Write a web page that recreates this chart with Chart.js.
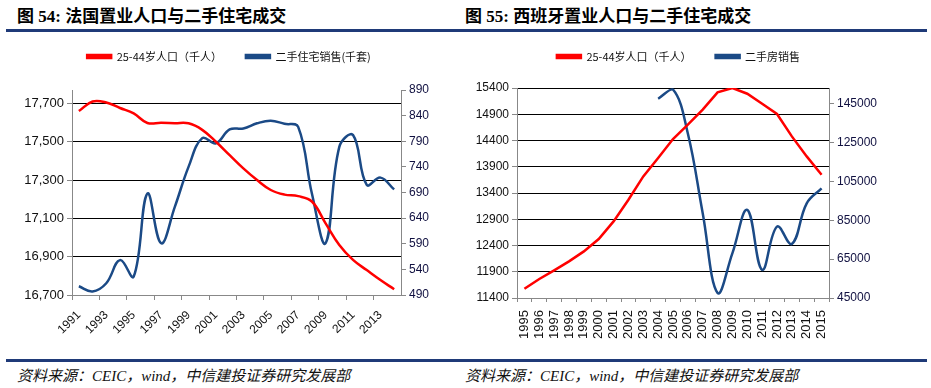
<!DOCTYPE html>
<html>
<head>
<meta charset="utf-8">
<script src="https://cdn.jsdelivr.net/npm/chart.js@4.4.0/dist/chart.umd.min.js"></script>
<style>
  body { margin: 0; background: #fff; width: 931px; height: 388px; position: relative; overflow: hidden; }
  .title { position: absolute; top: 5px; font: bold 17px/20px "Liberation Serif", "Noto Sans CJK SC", serif; color: #000; white-space: nowrap; }
  .title .cn { font-family: "Noto Sans CJK SC", sans-serif; }
  .rule { position: absolute; left: 6px; width: 921px; height: 3px; background: #1f3a78; }
  .source { position: absolute; top: 367px; font: italic 15px/18px "Liberation Serif", "Noto Sans CJK SC", serif; color: #111; white-space: nowrap; }
  canvas { position: absolute; }
</style>
</head>
<body>
<div class="title" style="left:17px">图 54: <span class="cn">法国置业人口与二手住宅成交</span></div>
<div class="title" style="left:465px">图 55: <span class="cn">西班牙置业人口与二手住宅成交</span></div>
<div class="rule" style="top:29px"></div>
<div class="rule" style="top:359px"></div>
<div class="source" style="left:17px">资料来源：CEIC，wind，中信建投证券研究发展部</div>
<div class="source" style="left:465px">资料来源：CEIC，wind，中信建投证券研究发展部</div>

<canvas id="franceChart" width="458" height="323" style="left:0px; top:27px"></canvas>
<canvas id="spainChart" width="427" height="323" style="left:465px; top:27px"></canvas>

<script>
// France, 1991-2014
const franceYears = ["1991","1992","1993","1994","1995","1996","1997","1998","1999","2000","2001","2002",
  "2003","2004","2005","2006","2007","2008","2009","2010","2011","2012","2013","2014"];
const francePop = [17660, 17710, 17705, 17676, 17648, 17598, 17599, 17597, 17596, 17562, 17500, 17430,
  17361, 17300, 17248, 17224, 17216, 17188, 17074, 16961, 16883, 16830, 16778, 16730];
const franceSales = [507, 497, 513, 558, 526, 688, 591, 662, 740, 796, 786, 813,
  815, 825, 830, 824, 818, 688, 591, 779, 802, 705, 719, 696];
const franceLeftTicks = [16700, 16900, 17100, 17300, 17500, 17700];
const franceRightTicks = [490, 540, 590, 640, 690, 740, 790, 840, 890];

// Spain, 1995-2015
const spainYears = ["1995","1996","1997","1998","1999","2000","2001","2002","2003","2004","2005",
  "2006","2007","2008","2009","2010","2011","2012","2013","2014","2015"];
const spainPop = [11577, 11762, 11926, 12097, 12288, 12524, 12859, 13272, 13716, 14067, 14429,
  14701, 14987, 15317, 15400, 15291, 15101, 14905, 14478, 14097, 13749];
const spainSales = [null, null, null, null, null, null, null, null, null, 147500, 152200,
  129600, 88600, 47600, 68100, 90300, 59500, 81700, 72800, 93700, 101400];
const spainLeftTicks = [11400, 11900, 12400, 12900, 13400, 13900, 14400, 14900, 15400];
const spainRightTicks = [45000, 65000, 85000, 105000, 125000, 145000];

const RED = "#ff0000";
const BLUE = "#1b4a86";
const AXIS = "#888888";

Chart.defaults.font.family = "'Liberation Sans', Arial, sans-serif";
Chart.defaults.color = "#111";

// make the legend take a fixed height so the plot starts where it should
function legendHeight(h) {
  return {
    id: "legendHeight",
    beforeInit(chart) {
      const fit = chart.legend.fit;
      chart.legend.fit = function () {
        fit.bind(chart.legend)();
        this.height = h;
      };
    }
  };
}

function fixWidth(w) {
  return scale => { scale.width = w; };
}

function useTicks(values) {
  return scale => { scale.ticks = values.map(v => ({ value: v })); };
}

const legendOpts = {
  position: "top",
  labels: {
    boxWidth: 24,
    boxHeight: 3,
    padding: 24,
    color: "#111",
    font: { family: "'Noto Sans CJK SC', sans-serif", size: 11 }
  }
};

new Chart(document.getElementById("franceChart"), {
  type: "line",
  data: {
    labels: franceYears,
    datasets: [
      {
        label: "25-44岁人口（千人）",
        data: francePop,
        yAxisID: "y",
        borderColor: RED,
        backgroundColor: RED,
        borderWidth: 2.5,
        pointRadius: 0,
        tension: 0.4
      },
      {
        label: "二手住宅销售(千套)",
        data: franceSales,
        yAxisID: "y1",
        borderColor: BLUE,
        backgroundColor: BLUE,
        borderWidth: 2.5,
        pointRadius: 0,
        tension: 0.4
      }
    ]
  },
  options: {
    responsive: false,
    animation: false,
    layout: { padding: 0 },
    plugins: { legend: legendOpts, tooltip: { enabled: false } },
    scales: {
      x: {
        offset: true,
        afterFit: scale => { scale.height = 55; },
        grid: {
          offset: true,
          drawOnChartArea: false,
          tickLength: 5,
          tickColor: ctx => (ctx.index % 2 === 0 ? AXIS : "rgba(0,0,0,0)")
        },
        border: { color: AXIS },
        ticks: {
          autoSkip: false,
          minRotation: 45,
          maxRotation: 45,
          padding: 8,
          font: { size: 12 },
          callback: (val, idx) => (idx % 2 === 0 ? franceYears[idx] : "")
        }
      },
      y: {
        position: "left",
        min: 16700,
        max: 17770,
        afterFit: fixWidth(72),
        afterBuildTicks: useTicks(franceLeftTicks),
        grid: {
          color: ctx => (ctx.tick && ctx.tick.value === 16700 ? "rgba(0,0,0,0)" : "#000"),
          tickColor: AXIS,
          tickLength: 5
        },
        border: { color: AXIS },
        ticks: { font: { size: 13 }, callback: v => v.toLocaleString("en-US") }
      },
      y1: {
        position: "right",
        min: 490,
        max: 890,
        afterFit: fixWidth(57),
        afterBuildTicks: useTicks(franceRightTicks),
        grid: { drawOnChartArea: false, tickColor: AXIS, tickLength: 5 },
        border: { color: AXIS },
        ticks: { color: "#101040", font: { size: 12 }, callback: v => String(v) }
      }
    }
  },
  plugins: [legendHeight(63)]
});

new Chart(document.getElementById("spainChart"), {
  type: "line",
  data: {
    labels: spainYears,
    datasets: [
      {
        label: "25-44岁人口（千人）",
        data: spainPop,
        yAxisID: "y",
        borderColor: RED,
        backgroundColor: RED,
        borderWidth: 2.5,
        pointRadius: 0,
        tension: 0
      },
      {
        label: "二手房销售",
        data: spainSales,
        yAxisID: "y1",
        borderColor: BLUE,
        backgroundColor: BLUE,
        borderWidth: 2.5,
        pointRadius: 0,
        tension: 0.4
      }
    ]
  },
  options: {
    responsive: false,
    animation: false,
    layout: { padding: 0 },
    plugins: { legend: legendOpts, tooltip: { enabled: false } },
    scales: {
      x: {
        offset: true,
        afterFit: scale => { scale.height = 52; },
        grid: { offset: true, drawOnChartArea: false, tickLength: 4, tickColor: AXIS },
        border: { color: AXIS },
        ticks: { autoSkip: false, minRotation: 90, maxRotation: 90, padding: 8, font: { size: 13 } }
      },
      y: {
        position: "left",
        min: 11400,
        max: 15400,
        afterFit: fixWidth(52),
        afterBuildTicks: useTicks(spainLeftTicks),
        grid: {
          color: ctx => (ctx.tick && ctx.tick.value === 11400 ? "rgba(0,0,0,0)" : "#000"),
          tickColor: AXIS,
          tickLength: 5
        },
        border: { color: AXIS },
        ticks: { font: { size: 12 }, callback: v => String(v) }
      },
      y1: {
        position: "right",
        min: 45000,
        max: 153000,
        afterFit: fixWidth(63),
        afterBuildTicks: useTicks(spainRightTicks),
        grid: { drawOnChartArea: false, tickColor: AXIS, tickLength: 5 },
        border: { color: AXIS },
        ticks: { color: "#101040", font: { size: 12 }, callback: v => String(v) }
      }
    }
  },
  plugins: [legendHeight(61)]
});
</script>
</body>
</html>
